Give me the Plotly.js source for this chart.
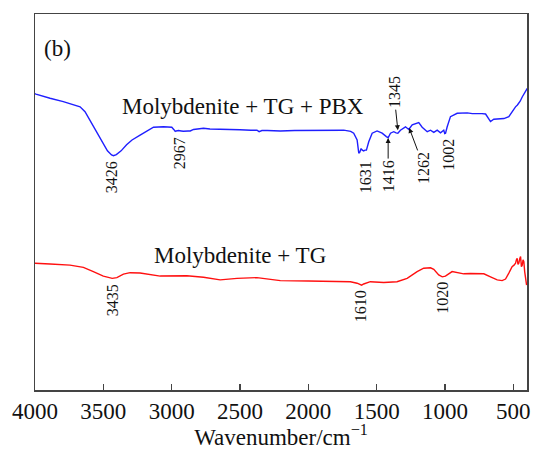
<!DOCTYPE html>
<html>
<head>
<meta charset="utf-8">
<script src="https://cdn.plot.ly/plotly-3.0.1.min.js"></script>
<style>
  html, body { margin: 0; padding: 0; background: #fff; }
  #chart { width: 538px; height: 450px; }
</style>
</head>
<body>
<div id="chart"></div>
<script>
// FTIR spectra, transmittance in arbitrary units (curves offset vertically)
const pbxWavenumber = [4000, 3993, 3890, 3793, 3670, 3634, 3585, 3524, 3470, 3440, 3426, 3405, 3370, 3330, 3290, 3231, 3180, 3133, 3060, 2999, 2985, 2974, 2967, 2950, 2930, 2914, 2880, 2864, 2840, 2800, 2767, 2720, 2694, 2640, 2571, 2500, 2420, 2376, 2360, 2352, 2340, 2300, 2205, 2100, 2000, 1900, 1839, 1741, 1690, 1668, 1643, 1635, 1631, 1624, 1614, 1605, 1595, 1585, 1575, 1558, 1533, 1497, 1460, 1429, 1416, 1399, 1375, 1358, 1345, 1326, 1289, 1265, 1240, 1192, 1167, 1130, 1106, 1082, 1057, 1033, 1009, 1002, 996, 984, 960, 911, 860, 837, 800, 764, 730, 703, 679, 667, 643, 600, 569, 533, 510, 484, 470, 459, 450, 434, 420, 410, 398];
const pbxSignal = [78.8, 78.7, 77.6, 76.7, 75.3, 74.0, 70.9, 66.9, 63.6, 62.5, 62.3, 62.6, 63.6, 65.2, 66.5, 67.8, 68.9, 69.9, 70.0, 69.9, 69.3, 68.8, 68.9, 69.0, 68.9, 68.8, 68.9, 68.9, 69.3, 69.5, 69.6, 69.4, 69.4, 69.3, 69.3, 69.2, 69.1, 69.1, 68.7, 68.8, 69.0, 69.0, 68.9, 69.0, 69.0, 69.0, 69.1, 69.1, 68.8, 68.3, 66.5, 64.0, 63.0, 63.2, 64.2, 63.8, 63.6, 63.8, 63.8, 66.0, 68.3, 68.9, 68.3, 67.4, 67.1, 68.3, 68.7, 68.4, 68.3, 69.1, 70.0, 69.3, 70.5, 71.1, 69.9, 68.7, 69.1, 68.5, 69.1, 68.4, 69.1, 68.2, 68.3, 70.0, 72.7, 73.6, 73.8, 73.7, 73.5, 73.6, 73.5, 73.4, 71.8, 71.4, 72.0, 72.1, 72.2, 72.7, 74.0, 75.3, 75.8, 76.2, 76.8, 78.0, 78.8, 79.5, 80.2];

const tgWavenumber = [4000, 3993, 3890, 3744, 3646, 3573, 3500, 3435, 3401, 3353, 3304, 3231, 3084, 2889, 2767, 2645, 2522, 2376, 2205, 2000, 1900, 1839, 1692, 1643, 1610, 1595, 1546, 1448, 1351, 1277, 1204, 1156, 1106, 1082, 1046, 1020, 997, 948, 911, 863, 814, 716, 667, 618, 582, 557, 533, 509, 495, 484, 478, 472, 466, 460, 453, 447, 441, 435, 429, 423, 417, 411, 403];
const tgSignal = [33.7, 33.7, 33.5, 33.2, 32.6, 31.5, 30.3, 29.7, 29.9, 30.8, 31.2, 31.1, 30.3, 30.4, 30.0, 29.3, 29.7, 29.9, 29.1, 29.0, 28.9, 28.8, 28.8, 28.4, 27.9, 28.2, 28.8, 28.6, 28.8, 29.7, 31.5, 32.4, 32.5, 32.1, 30.6, 30.1, 30.3, 31.5, 31.3, 30.9, 31.0, 30.9, 30.1, 29.3, 29.1, 29.5, 31.1, 32.8, 33.2, 33.7, 34.6, 35.0, 33.4, 33.7, 34.9, 35.5, 32.8, 33.2, 34.6, 34.1, 31.5, 29.3, 27.9];

const xTicks = [4000, 3500, 3000, 2500, 2000, 1500, 1000, 500];

// Plain peak labels: [wavenumber, label height, horizontal nudge in px]
const pbxPeaks = [[3426, 56.7, -2], [2967, 63.0, 3], [1631, 56.5, 7], [1002, 62.5, 3]];
const tgPeaks = [[3435, 23.9, 0], [1610, 22.2, -1], [1020, 24.6, 0]];

// Peak labels with a pointer: [wavenumber, arrow-head height, label dx, label dy] (px)
const pbxPointed = [[1416, 67.0, 0, 38], [1345, 69.1, -4, -38], [1262, 69.7, 15, 40]];

const serif = 'Liberation Serif, Times New Roman, Times, serif';
const labelFont = { family: serif, size: 16, color: '#111' };

const traces = [
  { x: pbxWavenumber, y: pbxSignal, type: 'scatter', mode: 'lines',
    line: { color: '#1f1fff', width: 1.4 }, hoverinfo: 'skip', showlegend: false },
  { x: tgWavenumber, y: tgSignal, type: 'scatter', mode: 'lines',
    line: { color: '#ff1010', width: 1.4 }, hoverinfo: 'skip', showlegend: false }
];

const annotations = [];
pbxPeaks.concat(tgPeaks).forEach(p => annotations.push({
  x: p[0], y: p[1], xref: 'x', yref: 'y', text: String(p[0]),
  textangle: -90, showarrow: false, xshift: p[2], font: labelFont
}));
pbxPointed.forEach(a => annotations.push({
  x: a[0], y: a[1], xref: 'x', yref: 'y', text: String(a[0]),
  textangle: -90, showarrow: true, ax: a[2], ay: a[3], standoff: 0,
  arrowhead: 2, arrowsize: 1, arrowwidth: 1, arrowcolor: '#111', font: labelFont
}));
annotations.push(
  { x: 2479, y: 75.3, xref: 'x', yref: 'y', text: 'Molybdenite + TG + PBX', showarrow: false,
    font: { family: serif, size: 23, color: '#111' } },
  { x: 2498, y: 35.9, xref: 'x', yref: 'y', text: 'Molybdenite + TG', showarrow: false,
    font: { family: serif, size: 23, color: '#111' } },
  { x: 0.014, y: 0.947, xref: 'paper', yref: 'paper', xanchor: 'left', text: '(b)', showarrow: false,
    font: { family: serif, size: 23, color: '#111' } }
);

const layout = {
  width: 538, height: 450,
  margin: { l: 35, r: 11, t: 14, b: 60 },
  paper_bgcolor: '#fff', plot_bgcolor: '#fff',
  font: { family: serif, color: '#111' },
  xaxis: {
    range: [4000, 400], tickvals: xTicks, ticktext: xTicks.map(String),
    ticks: 'inside', ticklen: 6, tickwidth: 1.3, tickcolor: '#444',
    showline: true, linecolor: '#444', linewidth: 1.5, mirror: true,
    showgrid: false, zeroline: false,
    tickfont: { family: serif, size: 23, color: '#111' },
    title: { text: 'Wavenumber/cm<sup>−1</sup>', font: { family: serif, size: 23, color: '#111' }, standoff: 9 }
  },
  yaxis: {
    range: [0, 100], showticklabels: false, ticks: '',
    showline: true, linecolor: '#444', linewidth: 1.5, mirror: true,
    showgrid: false, zeroline: false
  },
  annotations: annotations
};

Plotly.newPlot('chart', traces, layout, { staticPlot: true, displayModeBar: false });
</script>
</body>
</html>
